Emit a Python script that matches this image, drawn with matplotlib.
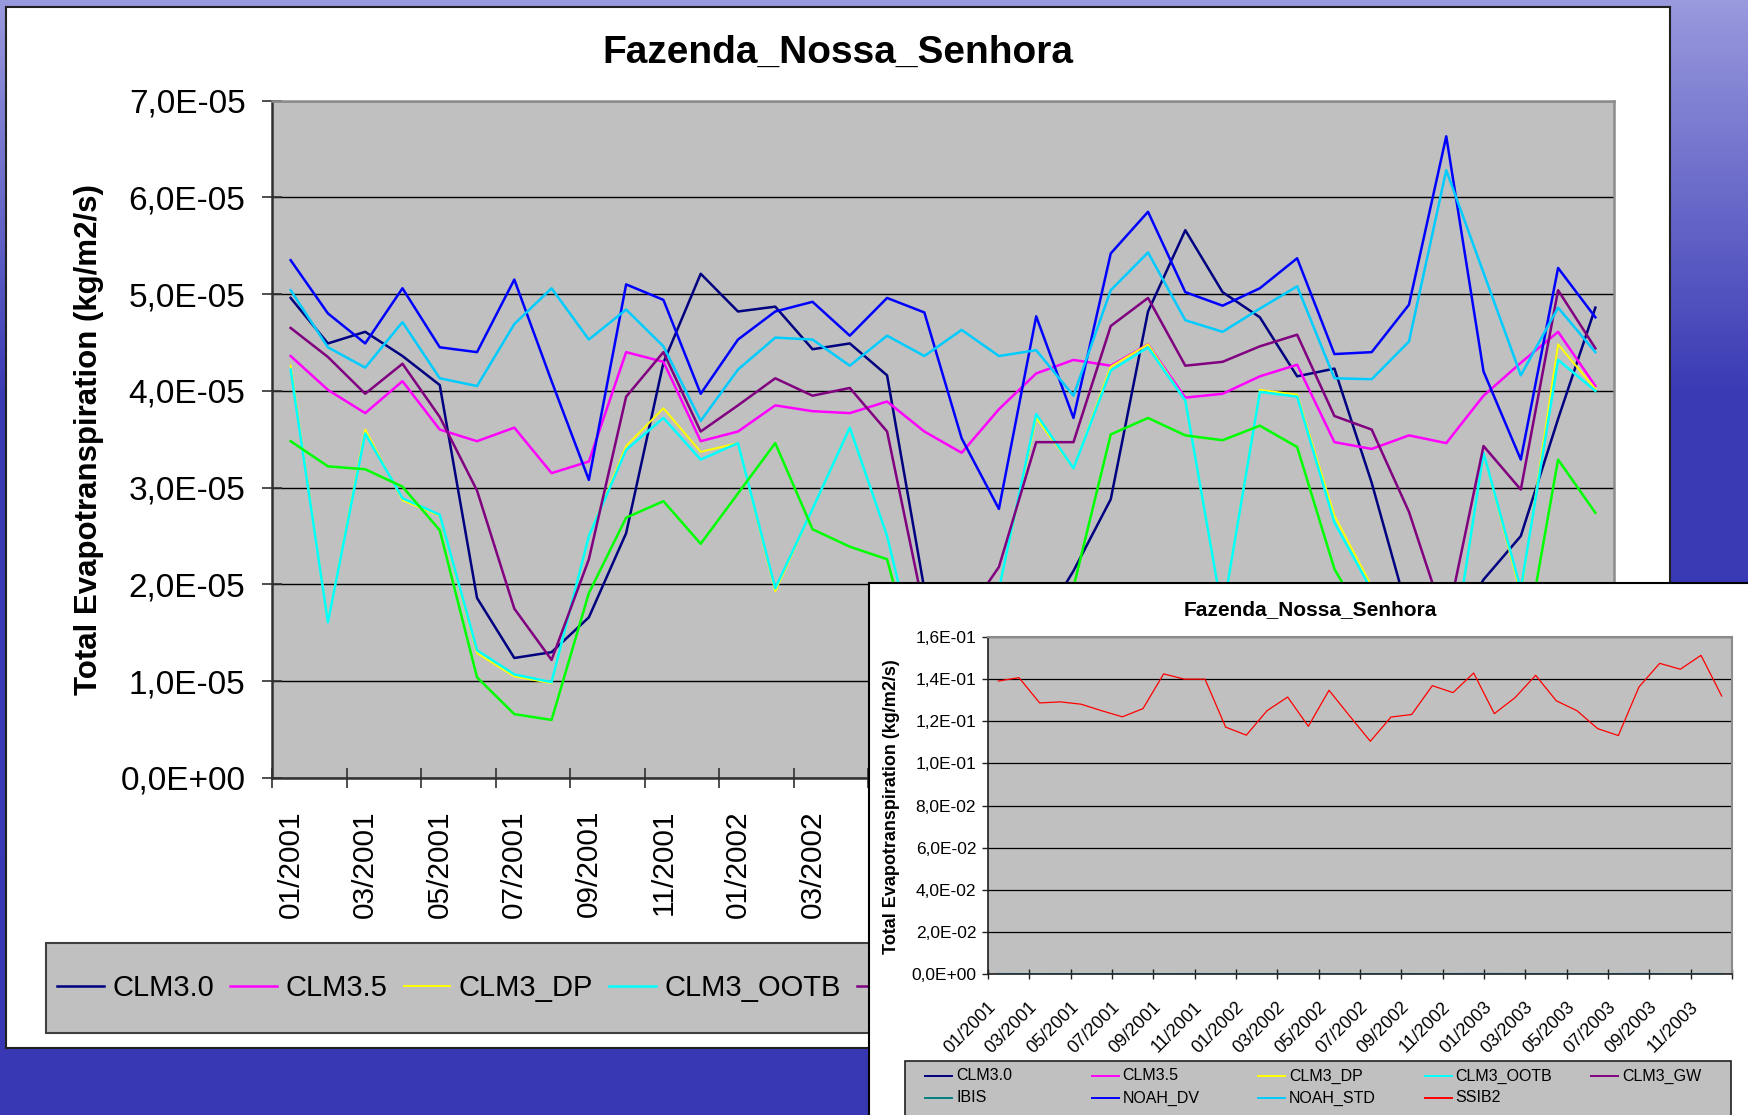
import numpy as np
import matplotlib
matplotlib.use("Agg")
import matplotlib.pyplot as plt
import matplotlib.transforms as mtransforms
from matplotlib.patches import Rectangle
from matplotlib.lines import Line2D
from matplotlib.ticker import FuncFormatter

plt.rcParams['font.family'] = ['Liberation Sans', 'DejaVu Sans']

# months 01/2001 .. 12/2003
months = [f"{m:02d}/{y}" for y in (2001, 2002, 2003) for m in range(1, 13)]
tick_labels = months[::2]
# the small chart hides the main chart's labels after 03/2002
n_visible_main_labels = 8

# total evapotranspiration, units of 1e-5 kg/m2/s
clm30 = [4.96, 4.49, 4.61, 4.36, 4.06, 1.86, 1.24, 1.30, 1.66, 2.53, 4.29, 5.21,
         4.82, 4.87, 4.43, 4.49, 4.16, 1.95, 1.35, 1.20, 1.50, 2.14, 2.88, 4.82,
         5.66, 5.02, 4.76, 4.15, 4.23, 3.05, 1.67, 1.40, 2.05, 2.50, 3.71, 4.86]
clm35 = [4.36, 4.01, 3.77, 4.10, 3.60, 3.48, 3.62, 3.15, 3.27, 4.40, 4.30, 3.48,
         3.58, 3.85, 3.79, 3.77, 3.89, 3.58, 3.36, 3.81, 4.18, 4.32, 4.26, 4.48,
         3.93, 3.97, 4.15, 4.27, 3.47, 3.40, 3.54, 3.46, 3.95, 4.29, 4.61, 4.05]
clm3_dp = [4.26, 1.61, 3.60, 2.87, 2.71, 1.29, 1.05, 0.98, 2.50, 3.43, 3.82, 3.37,
           3.46, 1.93, 2.78, 3.62, 2.50, 0.90, 0.90, 1.95, 3.72, 3.20, 4.25, 4.48,
           3.90, 1.70, 4.01, 3.96, 2.71, 1.98, 1.10, 0.85, 3.36, 1.90, 4.48, 4.02]
clm3_ootb = [4.22, 1.61, 3.56, 2.89, 2.72, 1.32, 1.07, 0.99, 2.50, 3.39, 3.72, 3.29,
             3.46, 1.96, 2.78, 3.62, 2.50, 0.90, 0.90, 1.95, 3.76, 3.20, 4.21, 4.45,
             3.90, 1.70, 3.99, 3.94, 2.64, 1.94, 1.10, 0.85, 3.36, 1.95, 4.32, 4.00]
clm3_gw = [4.65, 4.35, 3.97, 4.28, 3.73, 2.97, 1.75, 1.22, 2.26, 3.94, 4.40, 3.58,
           3.85, 4.13, 3.95, 4.03, 3.58, 1.72, 1.62, 2.18, 3.47, 3.47, 4.67, 4.96,
           4.26, 4.30, 4.46, 4.58, 3.74, 3.60, 2.75, 1.58, 3.43, 2.98, 5.04, 4.44]
ibis = [3.48, 3.22, 3.19, 3.01, 2.56, 1.04, 0.66, 0.60, 1.91, 2.69, 2.86, 2.42,
        2.94, 3.46, 2.57, 2.39, 2.26, 0.82, 0.70, 0.75, 1.40, 1.97, 3.55, 3.72,
        3.54, 3.49, 3.64, 3.42, 2.16, 1.49, 0.80, 0.60, 0.80, 1.10, 3.29, 2.74]
noah_dv = [5.35, 4.80, 4.49, 5.06, 4.45, 4.40, 5.15, 4.10, 3.08, 5.10, 4.94, 3.97,
           4.53, 4.82, 4.92, 4.57, 4.96, 4.81, 3.51, 2.78, 4.77, 3.72, 5.42, 5.85,
           5.02, 4.88, 5.06, 5.37, 4.38, 4.40, 4.89, 6.63, 4.20, 3.29, 5.27, 4.76]
noah_std = [5.04, 4.45, 4.24, 4.71, 4.13, 4.05, 4.69, 5.06, 4.53, 4.84, 4.46, 3.69,
            4.22, 4.55, 4.53, 4.26, 4.57, 4.36, 4.63, 4.36, 4.42, 3.95, 5.04, 5.43,
            4.73, 4.61, 4.85, 5.08, 4.13, 4.12, 4.51, 6.28, 5.22, 4.16, 4.86, 4.40]
# SSIB2, kg/m2/s (only shown in the small chart)
ssib2 = [0.1391, 0.1407, 0.1287, 0.1292, 0.1281, 0.1250, 0.1221, 0.1260, 0.1425,
         0.1400, 0.1400, 0.1172, 0.1134, 0.1250, 0.1315, 0.1176, 0.1347, 0.1225,
         0.1105, 0.1220, 0.1232, 0.1369, 0.1336, 0.1429, 0.1236, 0.1312, 0.1418,
         0.1297, 0.1250, 0.1165, 0.1132, 0.1363, 0.1475, 0.1447, 0.1513, 0.1320]

names = ["CLM3.0", "CLM3.5", "CLM3_DP", "CLM3_OOTB", "CLM3_GW", "IBIS",
         "NOAH_DV", "NOAH_STD"]
series = [clm30, clm35, clm3_dp, clm3_ootb, clm3_gw, ibis, noah_dv, noah_std]
colors_main = ["#000080", "#FF00FF", "#FFFF00", "#00FFFF", "#800080", "#00FF00",
               "#0000FF", "#00CCFF"]
colors_small = ["#000080", "#FF00FF", "#FFFF00", "#00FFFF", "#800080", "#008080",
                "#0000FF", "#00CCFF"]

W, H = 1748, 1115
fig = plt.figure(figsize=(W / 100, H / 100), dpi=100)


def fx(px):
    return px / W


def fy(py):
    return 1 - py / H


def sci_comma(v, pos):
    return f"{v:.1E}".replace(".", ",")


# blue slide background
bg = fig.add_axes([0, 0, 1, 1])
bg.set_zorder(-2)
bg.axis("off")
t = np.linspace(0, 1, 300)[:, None]
top = np.array([0.60, 0.60, 0.87])
mid = np.array([0.23, 0.23, 0.71])
low = np.array([0.22, 0.22, 0.71])
w = np.clip(t / 0.35, 0, 1)
img = np.where(t < 0.35, top * (1 - w) + mid * w,
               mid * (1 - (t - 0.35) / 0.65) + low * ((t - 0.35) / 0.65))
bg.imshow(img.reshape(300, 1, 3), aspect="auto", extent=[0, 1, 0, 1])

# main white panel
panel = fig.add_axes([fx(6), fy(1048), fx(1670) - fx(6), (1048 - 7) / H])
panel.set_zorder(0)
panel.set_facecolor("white")
panel.set_xticks([])
panel.set_yticks([])
for s in panel.spines.values():
    s.set_color("#202020")
    s.set_linewidth(1.5)

x = np.arange(len(months))

ax = fig.add_axes([fx(272), fy(778), (1614 - 272) / W, (778 - 100.5) / H])
ax.set_zorder(1)
ax.set_facecolor("#C0C0C0")
lines = []
for vals, name, c in zip(series, names, colors_main):
    lw = 1.4 if name == "CLM3_DP" else 1.8
    ln, = ax.plot(x, np.array(vals) * 1e-5, color=c, lw=lw, label=name)
    lines.append(ln)
ax.set_xlim(-0.5, 35.5)
ax.set_ylim(0, 7e-5)
ax.set_yticks(np.arange(0, 7.5e-5, 1e-5))
ax.yaxis.set_major_formatter(FuncFormatter(sci_comma))
ax.yaxis.grid(True, color="black", lw=1.0)
ax.set_axisbelow(True)
main_labels = [lab if k < n_visible_main_labels else "" for k, lab in enumerate(tick_labels)]
ax.set_xticks(x[::2])
ax.set_xticklabels(main_labels, rotation=90, fontsize=21.5)
ax.set_xticks(np.arange(-0.5, 36, 2), minor=True)
ax.tick_params(axis="x", which="major", length=0, pad=23)
ax.tick_params(axis="x", which="minor", direction="inout", length=14, width=1.2, color="#303030")
ax.tick_params(axis="y", direction="inout", length=14, width=1.2, color="#303030",
               labelsize=24, pad=12)
for side in ("left", "bottom"):
    ax.spines[side].set_color("#303030")
    ax.spines[side].set_linewidth(1.8)
for side in ("top", "right"):
    ax.spines[side].set_color("#8C8C8C")
    ax.spines[side].set_linewidth(1.8)

fig.text(fx(838), fy(53), "Fazenda_Nossa_Senhora", ha="center", va="center",
         fontsize=28, fontweight="bold", zorder=1)
fig.text(fx(89), fy(440), "Total Evapotranspiration (kg/m2/s)", rotation=90,
         ha="center", va="center", fontsize=22.5, fontweight="bold", zorder=1)

# main legend (from CLM3_GW on it is covered by the small chart)
fig.patches.append(Rectangle((fx(46), fy(1033)), fx(1100) - fx(46), (1033 - 943) / H,
                             transform=fig.transFigure, facecolor="#C0C0C0",
                             edgecolor="#404040", lw=1.5, zorder=2))
main_leg_labels = names[:4] + [""]
leg = fig.legend(handles=lines[:5], labels=main_leg_labels, loc="center left",
                 bbox_to_anchor=(fx(57), fy(988)), ncol=5, frameon=False,
                 fontsize=21, handlelength=1.6, handletextpad=0.3,
                 columnspacing=0.55, borderpad=0, borderaxespad=0)
leg.set_zorder(2.1)

# small chart panel
panel2 = fig.add_axes([fx(869), 0, 1 - fx(869) + 0.01, fy(583)])
panel2.set_zorder(3)
panel2.set_facecolor("white")
panel2.set_xticks([])
panel2.set_yticks([])
for side in ("right", "bottom"):
    panel2.spines[side].set_visible(False)
for side in ("left", "top"):
    panel2.spines[side].set_color("black")
    panel2.spines[side].set_linewidth(1.5)

ax2 = fig.add_axes([fx(988), fy(974), (1732 - 988) / W, (974 - 637) / H])
ax2.set_zorder(4)
ax2.set_facecolor("#C0C0C0")
for vals, c in zip(series, colors_small):
    ax2.plot(x, np.array(vals) * 1e-5, color=c, lw=1.3)
ax2.plot(x, ssib2, color="#FF0000", lw=0.9)
ax2.set_xlim(-0.5, 35.5)
ax2.set_ylim(0, 0.16)
ax2.set_yticks(np.arange(0, 0.161, 0.02))
ax2.yaxis.set_major_formatter(FuncFormatter(sci_comma))
ax2.yaxis.grid(True, color="black", lw=0.9)
ax2.set_axisbelow(True)
ax2.set_xticks(x[::2])
ax2.set_xticklabels(tick_labels, rotation=45, ha="right", rotation_mode="anchor",
                    fontsize=13)
ax2.set_xticks(np.arange(-0.5, 36, 2), minor=True)
ax2.tick_params(axis="x", which="major", length=0, pad=12)
ax2.tick_params(axis="x", which="minor", direction="inout", length=7, width=1, color="#202020")
ax2.tick_params(axis="y", direction="out", length=4.5, width=1, color="#202020",
                labelsize=12.5, pad=4)
# nudge the slanted labels down and left, as in the original
shift = mtransforms.ScaledTranslation(-11 / 100, -8 / 100, fig.dpi_scale_trans)
for lab in ax2.get_xticklabels():
    lab.set_transform(lab.get_transform() + shift)
for side in ("left", "bottom"):
    ax2.spines[side].set_color("#202020")
    ax2.spines[side].set_linewidth(1.2)
for side in ("top", "right"):
    ax2.spines[side].set_color("#8C8C8C")
    ax2.spines[side].set_linewidth(1.5)

fig.text(fx(1310), fy(610), "Fazenda_Nossa_Senhora", ha="center", va="center",
         fontsize=15, fontweight="bold", zorder=5)
fig.text(fx(892), fy(807), "Total Evapotranspiration (kg/m2/s)", rotation=90,
         ha="center", va="center", fontsize=13, fontweight="bold", zorder=5)

# small chart legend
fig.patches.append(Rectangle((fx(905), fy(1125)), fx(1731) - fx(905), (1125 - 1061) / H,
                             transform=fig.transFigure, facecolor="#C0C0C0",
                             edgecolor="#202020", lw=1.2, zorder=5))
small_names = names + ["SSIB2"]
small_colors = colors_small + ["#FF0000"]
for k, (nm, c) in enumerate(zip(small_names, small_colors)):
    col, row = k % 5, k // 5
    x0 = 925 + 166.5 * col
    yc = 1076 + 22 * row
    fig.lines.append(Line2D([fx(x0), fx(x0 + 27)], [fy(yc), fy(yc)], color=c, lw=1.4,
                            transform=fig.transFigure, zorder=6))
    fig.text(fx(x0 + 31), fy(yc), nm, va="center", ha="left", fontsize=11.5, zorder=6)

fig.savefig("out.png", dpi=100)
